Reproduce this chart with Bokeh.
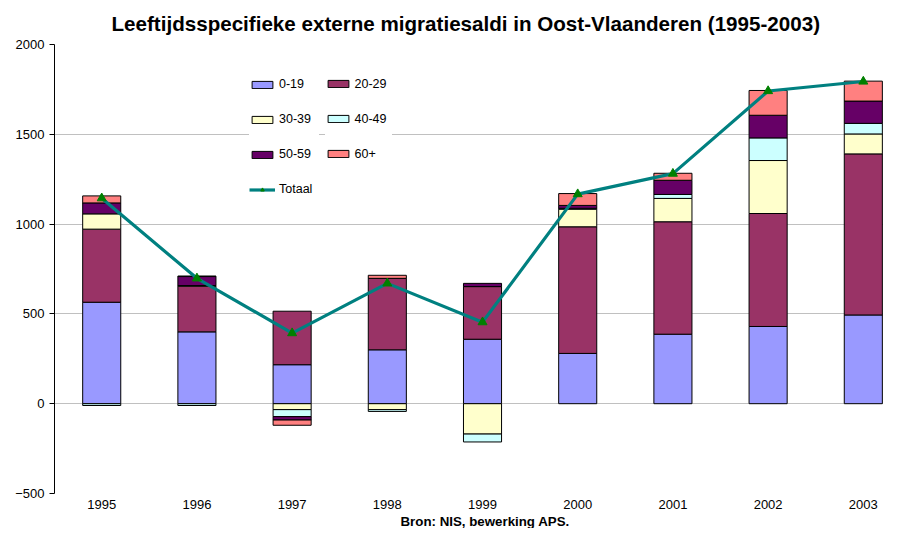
import numpy as np
from bokeh.plotting import figure
from bokeh.models import Legend, LegendItem, FixedTicker, Title, ColumnDataSource
from bokeh.embed import file_html
from bokeh.resources import INLINE

# ---- data ----
years = ["1995", "1996", "1997", "1998", "1999", "2000", "2001", "2002", "2003"]
groups = ["0-19", "20-29", "30-39", "40-49", "50-59", "60+"]
colors = ["#9999FF", "#993366", "#FFFFCC", "#CCFFFF", "#660066", "#FF8080"]
v_0_19 = [565, 400, 217, 300, 359, 280, 387, 430, 494]
v_20_29 = [407, 254, 298, 398, 293, 705, 626, 629, 897]
v_30_39 = [85, 4, -33, -33, -169, 98, 130, 295, 111]
v_40_49 = [-10, -10, -39, -10, -44, 5, 22, 126, 59]
v_50_59 = [61, 50, -19, 0, 18, 16, 79, 126, 124]
v_60_plus = [39, 3, -29, 17, 0, 66, 39, 138, 111]
totaal = [1144, 698, 393, 670, 454, 1167, 1281, 1741, 1794]
y_ticks = [-500, 0, 500, 1000, 1500, 2000]

series = [v_0_19, v_20_29, v_30_39, v_40_49, v_50_59, v_60_plus]

FONT = "Liberation Sans"

p = figure(width=883, height=528, x_range=(-0.496, 8.212), y_range=(-500, 2000),
           output_backend="svg", toolbar_location=None,
           min_border_left=54, min_border_right=0, min_border_top=44, min_border_bottom=34)
p.outline_line_color = None
p.background_fill_color = "white"
p.border_fill_color = "white"

p.title.text = "Leeftijdsspecifieke externe migratiesaldi in Oost-Vlaanderen (1995-2003)"
p.title.align = "left"
p.title.offset = 57
p.title.standoff = 19
p.title.text_font = FONT
p.title.text_font_size = "20.6px"
p.title.text_font_style = "bold"
p.title.text_color = "black"

xs = np.arange(len(years))

# stacked bars: positives stack upward, negatives downward (Excel style)
pos_base = np.zeros(len(years))
neg_base = np.zeros(len(years))
bar_renderers = []
for name, vals, col in zip(groups, series, colors):
    v = np.array(vals, dtype=float)
    bottom = np.where(v >= 0, pos_base, neg_base)
    top = bottom + v
    pos_base = np.where(v >= 0, top, pos_base)
    neg_base = np.where(v < 0, top, neg_base)
    mask = v != 0
    src = ColumnDataSource(dict(x=xs[mask], bottom=bottom[mask], top=top[mask]))
    r = p.vbar(x="x", bottom="bottom", top="top", width=0.4, source=src,
               fill_color=col, line_color="black", line_width=1)
    bar_renderers.append(r)

lr = p.line(xs, totaal, line_color="#008080", line_width=3.2)
sr = p.scatter(xs, totaal, marker="triangle", size=9,
               fill_color="#008000", line_color="#008000")

# axes
p.xaxis.ticker = FixedTicker(ticks=list(xs))
p.xaxis.major_label_overrides = {int(i): y for i, y in zip(xs, years)}
p.xaxis.axis_line_color = None
p.xaxis.major_tick_line_color = None
p.xaxis.major_tick_out = 0
p.xaxis.major_tick_in = 0
p.xaxis.minor_tick_line_color = None
p.xaxis.major_label_standoff = 6
p.xaxis.major_label_text_font = FONT
p.xaxis.major_label_text_font_size = "13px"
p.xaxis.major_label_text_color = "black"

p.yaxis.ticker = FixedTicker(ticks=y_ticks)
p.yaxis.axis_line_color = "black"
p.yaxis.major_tick_line_color = "black"
p.yaxis.major_tick_out = 5
p.yaxis.major_tick_in = 0
p.yaxis.minor_tick_line_color = None
p.yaxis.major_label_standoff = 5
p.yaxis.major_label_text_font = FONT
p.yaxis.major_label_text_font_size = "13px"
p.yaxis.major_label_text_color = "black"

p.xgrid.grid_line_color = None
p.ygrid.grid_line_color = "#C0C0C0"
p.ygrid.grid_line_width = 1

# legends (two columns as in the reference)
def make_legend(items, loc, label_width):
    return Legend(items=items, location=loc, orientation="vertical",
                  glyph_width=26, glyph_height=9, label_height=9, label_width=label_width,
                  label_standoff=4, spacing=21, padding=3, margin=0,
                  background_fill_color="white", background_fill_alpha=1.0,
                  border_line_color=None,
                  label_text_font=FONT, label_text_font_size="12.5px",
                  label_text_color="black")

leg1 = make_legend([
    LegendItem(label=groups[0], renderers=[bar_renderers[0]]),
    LegendItem(label=groups[2], renderers=[bar_renderers[2]]),
    LegendItem(label=groups[4], renderers=[bar_renderers[4]]),
    LegendItem(label="Totaal", renderers=[lr, sr]),
], (195, 297), 40)
leg2 = make_legend([
    LegendItem(label=groups[1], renderers=[bar_renderers[1]]),
    LegendItem(label=groups[3], renderers=[bar_renderers[3]]),
    LegendItem(label=groups[5], renderers=[bar_renderers[5]]),
], (270.5, 332.5), 37)
p.add_layout(leg1, "center")
p.add_layout(leg2, "center")

foot = Title(text="Bron: NIS, bewerking APS.", align="left", offset=346, standoff=0,
             text_font=FONT, text_font_size="13.3px", text_font_style="bold",
             text_color="black")
p.add_layout(foot, "below")

open("out.html", "w").write(file_html(p, INLINE))
